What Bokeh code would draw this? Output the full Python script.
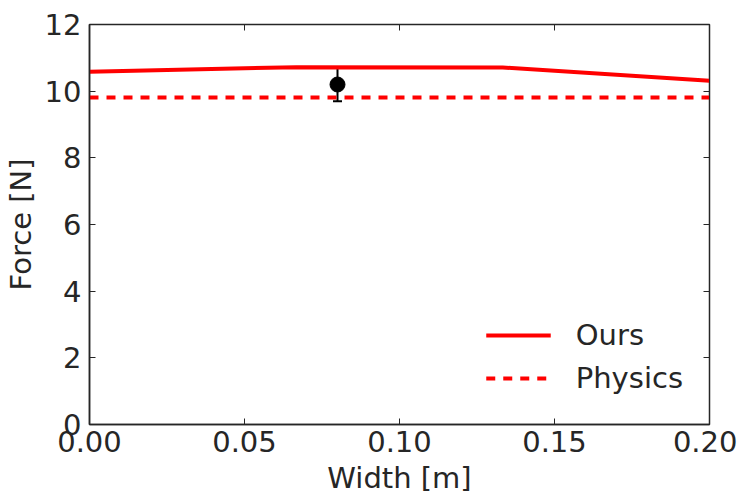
from bokeh.plotting import figure
from bokeh.models import (LinearAxis, Range1d, FixedTicker, Legend, LegendItem,
                          Whisker, TeeHead, ColumnDataSource)
from bokeh.embed import file_html
from bokeh.resources import INLINE

# ---- data ----
ours_x = [0.0, 0.0667, 0.1333, 0.2]
ours_y = [10.58, 10.72, 10.71, 10.31]
physics_x = [0.0, 0.2]
physics_y = [9.81, 9.81]
meas_x = [0.08]
meas_y = [10.2]
meas_err = [0.5]
x_ticks = [0.0, 0.05, 0.10, 0.15, 0.20]
x_tick_labels = ["0.00", "0.05", "0.10", "0.15", "0.20"]
y_ticks = [0, 2, 4, 6, 8, 10, 12]

TEXT = "#262626"
FONT = "DejaVu Sans"
FS = "29px"

p = figure(frame_width=620, frame_height=400, output_backend="svg",
           toolbar_location=None,
           x_range=Range1d(0, 0.2), y_range=Range1d(0, 12),
           x_axis_label="Width [m]", y_axis_label="Force [N]",
           min_border_left=82, min_border_right=28, min_border_top=24,
           min_border_bottom=76)
p.grid.visible = False
p.outline_line_color = TEXT
p.outline_line_width = 1.5
p.background_fill_color = "white"
p.border_fill_color = "white"

for ax in p.xaxis + p.yaxis:
    ax.major_label_text_font = FONT
    ax.major_label_text_font_size = FS
    ax.major_label_text_color = TEXT
    ax.axis_label_text_font = FONT
    ax.axis_label_text_font_size = FS
    ax.axis_label_text_font_style = "normal"
    ax.axis_label_text_color = TEXT
    ax.major_tick_in = 6
    ax.major_tick_out = 0
    ax.minor_tick_line_color = None
    ax.major_tick_line_color = TEXT
    ax.axis_line_color = TEXT
    ax.axis_line_width = 1.5

p.xaxis.ticker = FixedTicker(ticks=x_ticks)
p.xaxis.major_label_overrides = {t: l for t, l in zip(x_ticks, x_tick_labels)}
p.yaxis.ticker = FixedTicker(ticks=y_ticks)
p.xaxis.major_label_standoff = 6
p.xaxis.axis_label_standoff = 6
p.yaxis.major_label_standoff = 8
p.yaxis.axis_label_standoff = 4

# mirrored ticks on top and right
top = LinearAxis(ticker=FixedTicker(ticks=x_ticks), major_label_text_font_size="1px",
                 major_label_text_alpha=0, major_tick_in=6, major_tick_out=0,
                 minor_tick_line_color=None, axis_line_color=TEXT,
                 major_tick_line_color=TEXT, major_label_standoff=0)
right = LinearAxis(ticker=FixedTicker(ticks=y_ticks), major_label_text_font_size="1px",
                   major_label_text_alpha=0, major_tick_in=6, major_tick_out=0,
                   minor_tick_line_color=None, axis_line_color=TEXT,
                   major_tick_line_color=TEXT, major_label_standoff=0)
p.add_layout(top, "above")
p.add_layout(right, "right")

r_ours = p.line(ours_x, ours_y, line_color="red", line_width=4)
r_phys = p.line(physics_x, physics_y, line_color="red", line_width=4,
                line_dash="9 8")

src = ColumnDataSource(data=dict(
    x=meas_x, y=meas_y,
    upper=[v + e for v, e in zip(meas_y, meas_err)],
    lower=[v - e for v, e in zip(meas_y, meas_err)]))
wh = Whisker(source=src, base="x", upper="upper", lower="lower",
             line_color="black", line_width=2,
             upper_head=TeeHead(size=9, line_width=2, line_color="black"),
             lower_head=TeeHead(size=9, line_width=2, line_color="black"))
p.add_layout(wh)
p.scatter("x", "y", source=src, size=15, marker="circle",
          fill_color="black", line_color="black")

legend = Legend(items=[LegendItem(label="Ours", renderers=[r_ours]),
                       LegendItem(label="Physics", renderers=[r_phys])],
                location="bottom_right", border_line_color=None,
                background_fill_alpha=0, label_text_font=FONT,
                label_text_font_size=FS, label_text_color=TEXT,
                glyph_width=65, glyph_height=40, label_height=40,
                label_standoff=25, spacing=3, padding=12, margin=26)
p.add_layout(legend)

open("out.html", "w").write(file_html(p, INLINE))
